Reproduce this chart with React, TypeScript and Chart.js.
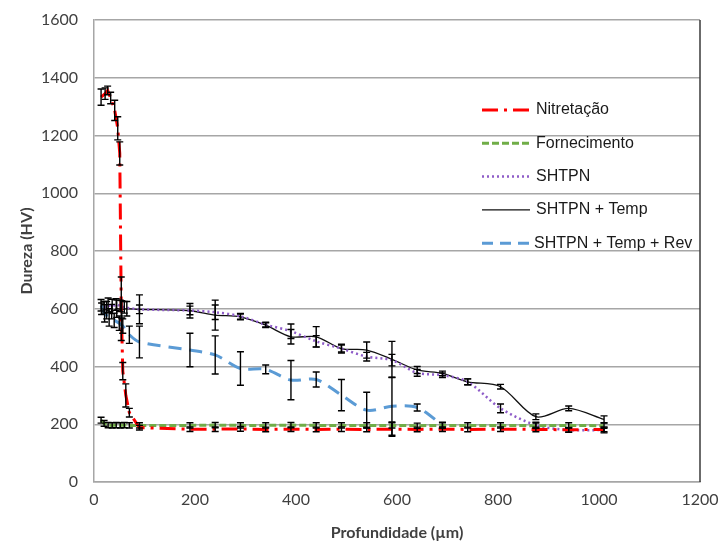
import React, { useEffect, useRef } from "react";
import { Chart, registerables } from "chart.js";

Chart.register(...registerables);

// ---------- data ----------
const seriesNames = ["Nitretação", "Fornecimento", "SHTPN", "SHTPN + Temp", "SHTPN + Temp + Rev"];

const nitX = [14, 22, 27, 33, 41, 47, 51, 54, 57, 63, 70, 90, 190, 240, 290, 340, 390, 440, 490, 540, 590, 640, 690, 740, 805, 875, 940, 1010];
const nitY = [1333, 1345, 1356, 1330, 1287, 1225, 1138, 600, 384, 300, 240, 188, 183, 183, 184, 182, 183, 182, 183, 182, 183, 182, 183, 182, 183, 182, 181, 182];
const nitErr = [28, 20, 15, 20, 35, 40, 40, 110, 30, 40, 15, 8, 8, 8, 8, 8, 8, 8, 8, 8, 25, 8, 8, 8, 8, 8, 8, 8];

const fornX = [14, 20, 28, 36, 44, 52, 60, 70, 90, 190, 240, 290, 340, 390, 440, 490, 540, 590, 640, 690, 740, 805, 875, 940, 1010];
const fornY = [214, 203, 197, 196, 197, 196, 197, 196, 196, 196, 197, 196, 196, 197, 196, 196, 196, 196, 195, 196, 196, 196, 195, 196, 195];
const fornErr = [10, 10, 9, 9, 9, 9, 9, 9, 9, 9, 9, 9, 9, 9, 9, 9, 9, 9, 9, 9, 9, 9, 9, 9, 9];

const shtpnX = [20, 28, 36, 44, 52, 60, 90, 190, 240, 290, 340, 390, 440, 490, 540, 590, 640, 690, 740, 805, 875, 940, 1010];
const shtpnY = [605, 612, 608, 615, 610, 605, 598, 594, 588, 574, 545, 522, 487, 462, 434, 422, 378, 370, 347, 255, 197, 180, 180];
const shtpnErr = [20, 25, 25, 20, 20, 20, 15, 15, 25, 10, 8, 25, 20, 12, 15, 20, 12, 8, 10, 15, 10, 8, 10];

const tempX = [15, 25, 35, 45, 55, 65, 90, 190, 240, 290, 340, 390, 440, 490, 540, 590, 640, 690, 740, 805, 875, 940, 1010];
const tempY = [600, 595, 590, 600, 598, 600, 598, 593, 578, 572, 543, 503, 503, 462, 457, 425, 388, 376, 347, 330, 226, 255, 217];
const tempErr = [20, 30, 25, 30, 30, 25, 50, 25, 52, 10, 8, 25, 35, 15, 28, 62, 12, 8, 10, 8, 10, 8, 12];

const revX = [14, 21, 30, 40, 50, 57, 70, 90, 190, 240, 290, 340, 390, 440, 490, 540, 590, 640, 690];
const revY = [612, 584, 570, 560, 550, 540, 510, 485, 457, 440, 393, 390, 353, 355, 301, 249, 262, 258, 197];
const revErr = [20, 30, 30, 25, 25, 25, 30, 55, 58, 66, 58, 15, 68, 26, 54, 62, 100, 12, 10];

const xMin = 0, xMax = 1200, xStep = 200;
const yMin = 0, yMax = 1600, yStep = 200;

const xTitle = "Profundidade (µm)";
const yTitle = "Dureza (HV)";

// ---------- helpers ----------
const pts = (xs: number[], ys: number[]) => xs.map((x, i) => ({ x, y: ys[i] }));

const errorBarPlugin = {
  id: "errorBars",
  afterDatasetsDraw(chart: any) {
    const { ctx, chartArea } = chart;
    const xs = chart.scales.x;
    const ys = chart.scales.y;
    ctx.save();
    ctx.beginPath();
    ctx.rect(chartArea.left, chartArea.top, chartArea.right - chartArea.left, chartArea.bottom - chartArea.top);
    ctx.clip();
    ctx.strokeStyle = "#000000";
    ctx.lineWidth = 1.4;
    chart.data.datasets.forEach((ds: any) => {
      const errs: number[] = ds.errors || [];
      ds.data.forEach((p: any, i: number) => {
        const e = errs[i];
        if (!e) return;
        const px = xs.getPixelForValue(p.x);
        const top = ys.getPixelForValue(p.y + e);
        const bot = ys.getPixelForValue(p.y - e);
        const cap = 3.5;
        ctx.beginPath();
        ctx.moveTo(px, top);
        ctx.lineTo(px, bot);
        ctx.moveTo(px - cap, top);
        ctx.lineTo(px + cap, top);
        ctx.moveTo(px - cap, bot);
        ctx.lineTo(px + cap, bot);
        ctx.stroke();
      });
    });
    ctx.restore();
  },
};

const frameAndLegendPlugin = {
  id: "frameLegend",
  afterDraw(chart: any) {
    const { ctx, chartArea } = chart;
    ctx.save();
    // right border of plot area
    ctx.strokeStyle = "#3a3a3a";
    ctx.lineWidth = 1.5;
    ctx.beginPath();
    ctx.moveTo(chartArea.right, chartArea.top);
    ctx.lineTo(chartArea.right, chartArea.bottom);
    ctx.stroke();

    // legend
    const lx0 = 482;
    const lx1 = 530;
    const tx = 536;
    const y0 = 110;
    const dy = 33.3;
    ctx.font = "16px 'Liberation Sans', Arial, sans-serif";
    ctx.textBaseline = "middle";
    ctx.textAlign = "left";
    chart.data.datasets.forEach((ds: any, i: number) => {
      const y = y0 + i * dy;
      ctx.save();
      ctx.strokeStyle = ds.borderColor;
      ctx.lineWidth = ds.borderWidth;
      ctx.lineCap = "butt";
      ctx.setLineDash(ds.legendDash || ds.borderDash || []);
      ctx.beginPath();
      ctx.moveTo(lx0, y);
      ctx.lineTo(lx1, y);
      ctx.stroke();
      ctx.restore();
      ctx.fillStyle = "#1a1a1a";
      ctx.fillText(ds.label, i === 4 ? tx - 2 : tx, y);
    });
    ctx.restore();
  },
};

const whiteBg = {
  id: "whiteBg",
  beforeDraw(chart: any) {
    const { ctx, width, height } = chart;
    ctx.save();
    ctx.fillStyle = "#ffffff";
    ctx.fillRect(0, 0, width, height);
    ctx.restore();
  },
};

export default function App() {
  const ref = useRef<HTMLCanvasElement | null>(null);

  useEffect(() => {
    if (!ref.current) return;
    const tickFont = { family: "Lato, 'Open Sans', sans-serif", size: 16 };
    const titleFont = { family: "Lato, 'Open Sans', sans-serif", size: 16, weight: "bold" as const };
    const plain = (v: any) => String(v);
    const chart = new Chart(ref.current, {
      type: "line",
      data: {
        datasets: [
          {
            label: seriesNames[0],
            data: pts(nitX, nitY),
            errors: nitErr,
            borderColor: "#ff0000",
            borderWidth: 3,
            borderDash: [16, 6, 3, 6],
            pointRadius: 0,
            tension: 0,
            fill: false,
          } as any,
          {
            label: seriesNames[1],
            data: pts(fornX, fornY),
            errors: fornErr,
            borderColor: "#70ad47",
            borderWidth: 3,
            borderDash: [7, 3],
            pointRadius: 0,
            tension: 0,
            fill: false,
          } as any,
          {
            label: seriesNames[2],
            data: pts(shtpnX, shtpnY),
            errors: shtpnErr,
            borderColor: "#8e5cc8",
            borderWidth: 2.5,
            borderDash: [2, 3],
            pointRadius: 0,
            tension: 0.3,
            fill: false,
          } as any,
          {
            label: seriesNames[3],
            data: pts(tempX, tempY),
            errors: tempErr,
            borderColor: "#111111",
            borderWidth: 1.3,
            pointRadius: 0,
            tension: 0.3,
            fill: false,
          } as any,
          {
            label: seriesNames[4],
            data: pts(revX, revY),
            errors: revErr,
            borderColor: "#5b9bd5",
            borderWidth: 3,
            borderDash: [13, 8],
            legendDash: [11, 7],
            pointRadius: 0,
            tension: 0.3,
            fill: false,
          } as any,
        ],
      },
      options: {
        animation: false,
        responsive: false,
        maintainAspectRatio: false,
        layout: { padding: { top: 20, right: 21, left: 0, bottom: 0 } },
        plugins: {
          legend: { display: false },
          tooltip: { enabled: false },
        },
        scales: {
          x: {
            type: "linear",
            min: xMin,
            max: xMax,
            ticks: {
              stepSize: xStep,
              padding: 8,
              color: "#404040",
              font: tickFont,
              maxRotation: 0,
              callback: plain,
            },
            grid: { display: false, drawTicks: false },
            border: { display: true, color: "#a6a6a6", width: 1.5 },
            title: {
              display: true,
              text: xTitle,
              color: "#404040",
              font: titleFont,
              padding: { top: 0, bottom: 3 },
            },
            afterFit(scale: any) {
              scale.height = 63;
              scale.paddingLeft = 0;
              scale.paddingRight = 0;
            },
          },
          y: {
            type: "linear",
            min: yMin,
            max: yMax,
            ticks: {
              stepSize: yStep,
              padding: 16,
              color: "#404040",
              font: tickFont,
              callback: plain,
            },
            grid: { color: "#a6a6a6", lineWidth: 1.5, drawTicks: false },
            border: { display: true, color: "#a6a6a6", width: 1.5 },
            title: {
              display: true,
              text: yTitle,
              color: "#404040",
              font: titleFont,
              padding: { top: 17, bottom: 0 },
            },
            afterFit(scale: any) {
              scale.width = 94;
              scale.paddingTop = 0;
              scale.paddingBottom = 0;
            },
          },
        },
      },
      plugins: [whiteBg, errorBarPlugin, frameAndLegendPlugin],
    });
    return () => chart.destroy();
  }, []);

  return (
    <div style={{ position: "absolute", left: 0, top: 0, width: 721, height: 545, background: "#ffffff" }}>
      <canvas ref={ref} width={721} height={545} style={{ display: "block", width: 721, height: 545 }} />
    </div>
  );
}
